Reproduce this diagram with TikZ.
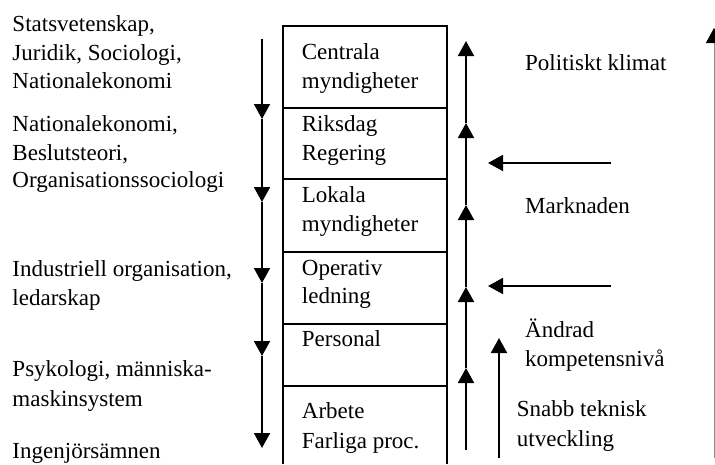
\documentclass[tikz,border=0pt]{standalone}
\usepackage{fontspec}
\setmainfont{Liberation Serif}
\usetikzlibrary{arrows.meta}
\begin{document}
\begin{tikzpicture}[x=1pt,y=-1pt,
  lbl/.style={anchor=base west, inner sep=0pt, font=\fontsize{23}{28}\selectfont},
  flow/.style={line width=1.9pt, -{Triangle[width=16pt,length=15pt]}},
  frame/.style={line width=1.8pt}]
\useasboundingbox (0,0) rectangle (715,464);

% disciplines on the left
\node[lbl] (d1a) at (12.3,31.5) {Statsvetenskap,};
\node[lbl] (d1b) at (12.3,60) {Juridik, Sociologi,};
\node[lbl] (d1c) at (12.3,88) {Nationalekonomi};
\node[lbl] (d2a) at (12.3,131.7) {Nationalekonomi,};
\node[lbl] (d2b) at (12.3,160) {Beslutsteori,};
\node[lbl] (d2c) at (12.3,187) {Organisationssociologi};
\node[lbl] (d3a) at (12.3,276.7) {Industriell organisation,};
\node[lbl] (d3b) at (12.3,305) {ledarskap};
\node[lbl] (d4a) at (12.3,376.7) {Psykologi, människa-};
\node[lbl] (d4b) at (12.3,406.7) {maskinsystem};
\node[lbl] (d5a) at (12.3,458) {Ingenjörsämnen};

% stacked levels
\draw[frame] (283.3,464) -- (283.3,26) -- (446.7,26) -- (446.7,464);
\foreach \yy in {107.7,179.3,252.3,324,385.7}
  \draw[frame] (283.3,\yy) -- (446.7,\yy);

\node[lbl] (l1a) at (301.7,59.3) {Centrala};
\node[lbl] (l1b) at (301.7,88.3) {myndigheter};
\node[lbl] (l2a) at (301.7,131.7) {Riksdag};
\node[lbl] (l2b) at (301.7,160) {Regering};
\node[lbl] (l3a) at (301.7,202.7) {Lokala};
\node[lbl] (l3b) at (301.7,231.7) {myndigheter};
\node[lbl] (l4a) at (301.7,275) {Operativ};
\node[lbl] (l4b) at (301.7,303.3) {ledning};
\node[lbl] (l5a) at (301.7,346) {Personal};
\node[lbl] (l6a) at (301.7,418.3) {Arbete};
\node[lbl] (l6b) at (301.7,448.3) {Farliga proc.};

% downward chain
\coordinate (a0) at (262,39);
\coordinate (a1) at (262,119);
\coordinate (a2) at (262,202);
\coordinate (a3) at (262,283);
\coordinate (a4) at (262,356);
\coordinate (a5) at (262,448);
\draw[flow] (a0) -- (a1);
\draw[flow] (a1) -- (a2);
\draw[flow] (a2) -- (a3);
\draw[flow] (a3) -- (a4);
\draw[flow] (a4) -- (a5);

% upward chain
\coordinate (b0) at (466,450);
\coordinate (b1) at (466,368);
\coordinate (b2) at (466,287);
\coordinate (b3) at (466,205);
\coordinate (b4) at (466,123);
\coordinate (b5) at (466,41);
\draw[flow] (b0) -- (b1);
\draw[flow] (b1) -- (b2);
\draw[flow] (b2) -- (b3);
\draw[flow] (b3) -- (b4);
\draw[flow] (b4) -- (b5);

% external influences
\coordinate (m1s) at (611,163);
\coordinate (m1e) at (488,163);
\coordinate (m2s) at (611,286);
\coordinate (m2e) at (488,286);
\draw[flow] (m1s) -- (m1e);
\draw[flow] (m2s) -- (m2e);

\coordinate (k0) at (499,458);
\coordinate (k1) at (499,338);
\draw[flow] (k0) -- (k1);

\node[lbl] (p1) at (525,70) {Politiskt klimat};
\node[lbl] (p2) at (525,213) {Marknaden};
\node[lbl] (p3a) at (525,337) {Ändrad};
\node[lbl] (p3b) at (525,366.7) {kompetensnivå};
\node[lbl] (p4a) at (516.7,416.7) {Snabb teknisk};
\node[lbl] (p4b) at (516.7,446.7) {utveckling};

% edge axis
\coordinate (e0) at (714,458);
\coordinate (e1) at (714,28);
\draw[line width=1pt, draw=black!45, -{Triangle[width=16pt,length=15pt,black]}] (e0) -- (e1);
\end{tikzpicture}
\end{document}
